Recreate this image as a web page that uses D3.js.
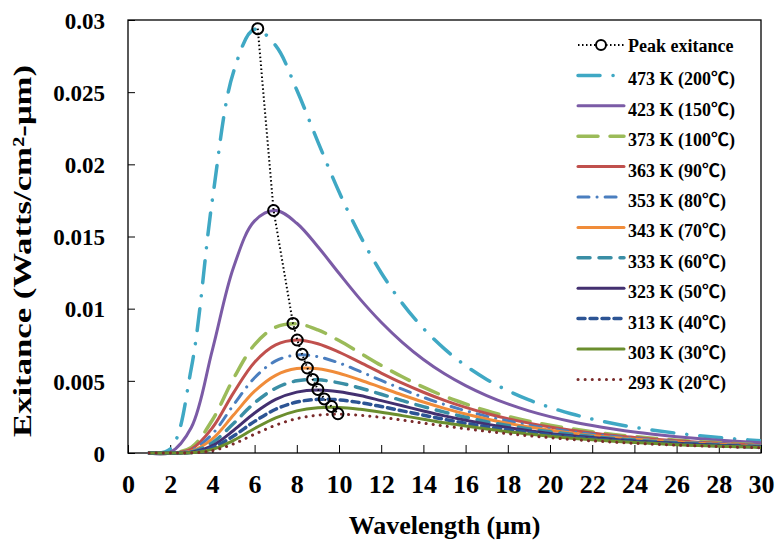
<!DOCTYPE html>
<html><head><meta charset="utf-8">
<script src="https://cdn.jsdelivr.net/npm/d3@7/dist/d3.min.js"></script>
<style>
html,body{margin:0;padding:0;background:#fff;}
svg{display:block;}
svg text{font-family:"Liberation Serif","Times New Roman",Tinos,"Noto Sans CJK SC",serif !important;font-weight:bold;fill:#000;}
</style></head><body>
<svg id="chart" width="783" height="554"></svg>
<script>
// ---------- data ----------
const wavelengths = [1,2,3,4,5,6,7,8,9,10,11,12,13,14,15,16,17,18,19,20,21,22,23,24,25,26,27,28,29,30];

const seriesLabels = ["473 K (200℃)","423 K (150℃)","373 K (100℃)","363 K (90℃)","353 K (80℃)",
  "343 K (70℃)","333 K (60℃)","323 K (50℃)","313 K (40℃)","303 K (30℃)","293 K (20℃)"];

const exitance473 = [0,0.00028,0.00587,0.01757,0.02640,0.02936,0.02822,0.02515,0.02156,0.01810,0.01506,0.01249,0.01037,0.00863,0.00721,0.00605,0.00510,0.00432,0.00368,0.00316,0.00272,0.00235,0.00204,0.00178,0.00156,0.00137,0.00121,0.00107,0.00095,0.00085];
const exitance423 = [0,0.00005,0.00177,0.00715,0.01285,0.01608,0.01680,0.01592,0.01429,0.01245,0.01066,0.00906,0.00767,0.00648,0.00549,0.00467,0.00398,0.00340,0.00292,0.00252,0.00218,0.00190,0.00166,0.00145,0.00128,0.00113,0.00100,0.00089,0.00079,0.00071];
const exitance373 = [0,0,0.00039,0.00229,0.00516,0.00751,0.00872,0.00895,0.00853,0.00779,0.00693,0.00607,0.00528,0.00456,0.00393,0.00340,0.00293,0.00254,0.00220,0.00192,0.00168,0.00147,0.00129,0.00114,0.00101,0.00089,0.00079,0.00071,0.00063,0.00057];
const exitance363 = [0,0,0.00027,0.00175,0.00417,0.00629,0.00749,0.00783,0.00757,0.00699,0.00628,0.00554,0.00484,0.00421,0.00365,0.00316,0.00274,0.00238,0.00207,0.00180,0.00158,0.00139,0.00122,0.00108,0.00095,0.00085,0.00075,0.00067,0.00060,0.00054];
const exitance353 = [0,0,0.00019,0.00132,0.00333,0.00521,0.00638,0.00679,0.00667,0.00624,0.00565,0.00503,0.00442,0.00386,0.00336,0.00293,0.00254,0.00222,0.00193,0.00169,0.00148,0.00130,0.00115,0.00102,0.00090,0.00080,0.00071,0.00064,0.00057,0.00051];
const exitance343 = [0,0,0.00013,0.00098,0.00263,0.00428,0.00538,0.00585,0.00584,0.00553,0.00506,0.00454,0.00402,0.00353,0.00309,0.00270,0.00236,0.00206,0.00180,0.00158,0.00139,0.00122,0.00108,0.00096,0.00085,0.00076,0.00068,0.00060,0.00054,0.00049];
const exitance333 = [0,0,0.00008,0.00072,0.00204,0.00347,0.00449,0.00500,0.00507,0.00486,0.00450,0.00407,0.00363,0.00321,0.00283,0.00248,0.00217,0.00191,0.00167,0.00147,0.00130,0.00114,0.00101,0.00090,0.00080,0.00071,0.00064,0.00057,0.00051,0.00046];
const exitance323 = [0,0,0.00005,0.00051,0.00156,0.00277,0.00371,0.00422,0.00437,0.00425,0.00398,0.00363,0.00327,0.00291,0.00257,0.00227,0.00200,0.00176,0.00155,0.00136,0.00120,0.00107,0.00095,0.00084,0.00075,0.00067,0.00060,0.00054,0.00048,0.00044];
const exitance313 = [0,0,0.00003,0.00036,0.00118,0.00219,0.00303,0.00353,0.00372,0.00368,0.00349,0.00322,0.00292,0.00262,0.00233,0.00206,0.00182,0.00161,0.00142,0.00126,0.00112,0.00099,0.00088,0.00078,0.00070,0.00063,0.00056,0.00050,0.00045,0.00041];
const exitance303 = [0,0,0.00002,0.00025,0.00087,0.00170,0.00244,0.00292,0.00314,0.00316,0.00303,0.00283,0.00259,0.00234,0.00209,0.00187,0.00166,0.00147,0.00131,0.00116,0.00103,0.00092,0.00082,0.00073,0.00065,0.00058,0.00052,0.00047,0.00043,0.00038];
const exitance293 = [0,0,0.00001,0.00016,0.00063,0.00130,0.00193,0.00238,0.00262,0.00268,0.00261,0.00247,0.00228,0.00207,0.00187,0.00168,0.00150,0.00134,0.00119,0.00106,0.00094,0.00084,0.00075,0.00067,0.00060,0.00054,0.00049,0.00044,0.00040,0.00036];

const peakLabel = "Peak exitance";
const peakWavelength = [6.15,6.9,7.82,8.02,8.25,8.5,8.75,9.0,9.3,9.65,9.95];
const peakExitance   = [0.0294,0.0168,0.00898,0.00783,0.00684,0.00589,0.00510,0.00440,0.00375,0.00322,0.00272];

const xTicks = [0,2,4,6,8,10,12,14,16,18,20,22,24,26,28,30];
const yTicks = [0,0.005,0.01,0.015,0.02,0.025,0.03];
const yTickLabels = ["0","0.005","0.01","0.015","0.02","0.025","0.03"];

// ---------- styles ----------
const seriesValues = [exitance473,exitance423,exitance373,exitance363,exitance353,exitance343,exitance333,exitance323,exitance313,exitance303,exitance293];
const seriesColors = ["#3FA8C4","#7B5BA6","#9BBB59","#C0504D","#4A7EBF","#F08C3A","#3A8EA5","#433070","#2C5494","#6B8E2E","#7A2B2B"];
const seriesDash   = ["22,13,0.1,13",null,"20,12",null,"11,8,0.1,8",null,"12,9",null,"7,5",null,"0.1,7"];
const seriesWidth  = [3.5,3,3.5,3,3,3,3.5,3,3.5,3,3];

const plot = {left:128, right:761, top:20, bottom:453};

const svg = d3.select("#chart");
const x = d3.scaleLinear().domain([0,30]).range([plot.left, plot.right]);
const y = d3.scaleLinear().domain([0,0.03]).range([plot.bottom, plot.top]);

svg.append("defs").append("clipPath").attr("id","clip")
  .append("rect").attr("x",plot.left).attr("y",0).attr("width",plot.right-plot.left).attr("height",plot.bottom+3);

// axes
const xAxis = svg.append("g").attr("transform",`translate(0,${plot.bottom})`)
  .call(d3.axisBottom(x).tickValues(xTicks).tickSize(-8).tickFormat(d3.format("d")));
xAxis.attr("font-family",null).attr("font-size",null);
xAxis.select(".domain").remove();
xAxis.selectAll(".tick line").attr("stroke","#000").attr("stroke-width",1);
xAxis.selectAll(".tick text").attr("y",40).attr("dy",0).style("font-size","26px");

const yAxis = svg.append("g").attr("transform",`translate(${plot.left},0)`)
  .call(d3.axisLeft(y).tickValues(yTicks).tickSize(-7).tickFormat((d,i)=>yTickLabels[i]));
yAxis.attr("font-family",null).attr("font-size",null);
yAxis.select(".domain").remove();
yAxis.selectAll(".tick line").attr("stroke","#000").attr("stroke-width",1);
yAxis.selectAll(".tick text").attr("x",-23).attr("dy","0.36em").style("font-size","23px");

// plot border
svg.append("rect").attr("x",plot.left).attr("y",plot.top).attr("width",plot.right-plot.left).attr("height",plot.bottom-plot.top)
  .attr("fill","none").attr("stroke","#000").attr("stroke-width",1.3);

// curves
const line = d3.line().x(d=>x(d[0])).y(d=>y(d[1])).curve(d3.curveCatmullRom.alpha(0.5));
const curves = svg.append("g").attr("clip-path","url(#clip)");
seriesValues.forEach((vals,i)=>{
  const pts = wavelengths.map((w,j)=>[w, vals[j]]);
  curves.append("path").datum(pts).attr("d",line)
    .attr("fill","none").attr("stroke",seriesColors[i]).attr("stroke-width",seriesWidth[i])
    .attr("stroke-linecap","round").attr("stroke-linejoin","round")
    .attr("stroke-dasharray",seriesDash[i]);
});

// peak exitance
const peakPts = peakWavelength.map((w,j)=>[w, peakExitance[j]]);
svg.append("path").datum(peakPts)
  .attr("d", d3.line().x(d=>x(d[0])).y(d=>y(d[1])))
  .attr("fill","none").attr("stroke","#000").attr("stroke-width",2)
  .attr("stroke-dasharray","1.5,2.5");
svg.append("g").selectAll("circle").data(peakPts).join("circle")
  .attr("cx",d=>x(d[0])).attr("cy",d=>y(d[1])).attr("r",5.5)
  .attr("fill","none").attr("stroke","#000").attr("stroke-width",2);

// legend
const lg = svg.append("g");
const rowY = i => 45 + 30.4*i;
const sx0 = 578, sx1 = 624, tx = 628;
lg.append("line").attr("x1",sx0).attr("x2",sx1).attr("y1",rowY(0)).attr("y2",rowY(0))
  .attr("stroke","#000").attr("stroke-width",2).attr("stroke-dasharray","1.5,2.5");
lg.append("circle").attr("cx",(sx0+sx1)/2).attr("cy",rowY(0)).attr("r",5)
  .attr("fill","#fff").attr("stroke","#000").attr("stroke-width",2);
lg.append("text").attr("x",tx).attr("y",rowY(0)+7).style("font-size","18px").text(peakLabel);
seriesLabels.forEach((lab,i)=>{
  const yy = rowY(i+1);
  lg.append("line").attr("x1",sx0).attr("x2",sx1).attr("y1",yy).attr("y2",yy)
    .attr("stroke",seriesColors[i]).attr("stroke-width",seriesWidth[i])
    .attr("stroke-linecap","round").attr("stroke-dasharray",seriesDash[i]);
  lg.append("text").attr("x",tx).attr("y",yy+10).style("font-size","18px").text(lab);
});

// axis titles
svg.append("text").attr("x",(plot.left+plot.right)/2).attr("y",534).attr("text-anchor","middle")
  .style("font-size","26px").text("Wavelength (μm)");
svg.append("text").attr("transform","translate(31,251) rotate(-90)").attr("text-anchor","middle")
  .attr("textLength",372).attr("lengthAdjust","spacingAndGlyphs")
  .style("font-size","26px").text("Exitance (Watts/cm²-μm)");
</script>
</body></html>
